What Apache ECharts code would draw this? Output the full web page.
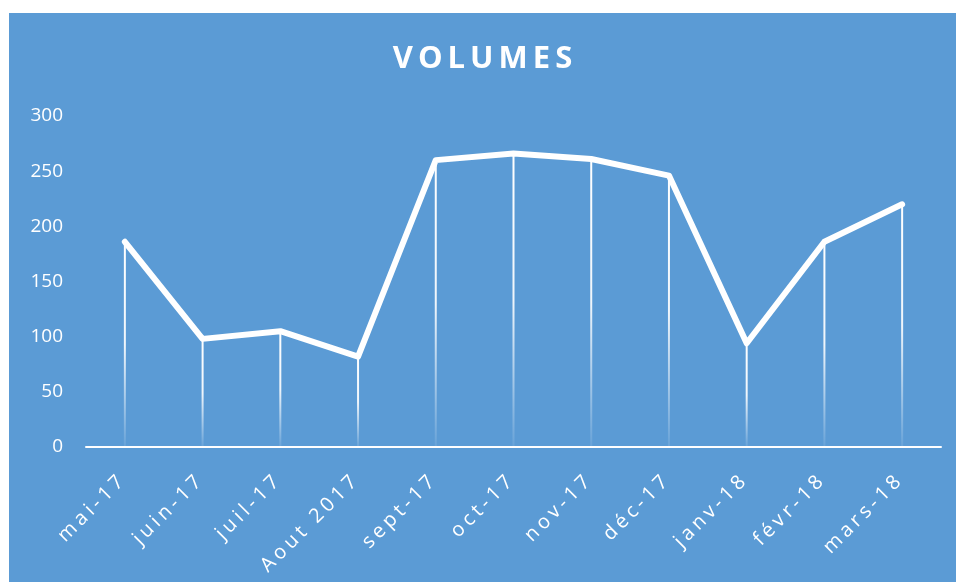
<!DOCTYPE html>
<html>
    <head>
        <meta charset="UTF-8" />
        <title>VOLUMES</title>
        <script type="text/javascript" src="https://cdn.jsdelivr.net/npm/echarts@6/dist/echarts.min.js"></script>
    </head>
    <body style="margin:0; width:956px; height:582px; background:#ffffff;">
        <div id="main" style="position:absolute; left:9px; top:13px; width:947px; height:569px;"></div>
    </body>
    <script>
        var months = ['mai-17', 'juin-17', 'juil-17', 'Aout 2017', 'sept-17', 'oct-17', 'nov-17', 'déc-17', 'janv-18', 'févr-18', 'mars-18'];
        var volumes = [186, 98, 105, 82, 260, 266, 261, 246, 94, 186, 220];
        var yTicks = [0, 50, 100, 150, 200, 250, 300];

        var myChart = echarts.init(document.getElementById('main'));
        var txt = '#ffffff';

        // spread characters apart (Excel-style character spacing)
        function spaced(s, lastStyle) {
            var out = '';
            for (var i = 0; i < s.length; i++) {
                var st = i === 0 ? 'a' : 'b';
                if (lastStyle && i === s.length - 1) st = lastStyle;
                out += '{' + st + '|' + s[i] + '}';
            }
            return out;
        }

        option = {
            backgroundColor: '#5B9BD5',
            animation: false,
            title: {
                text: spaced('VOLUMES'),
                left: 'center',
                top: 26,
                textStyle: {
                    color: txt,
                    fontFamily: 'Open Sans',
                    fontWeight: 'bold',
                    fontSize: 31,
                    rich: {
                        a: { color: txt, fontFamily: 'Open Sans', fontWeight: 'bold', fontSize: 31 },
                        b: { color: txt, fontFamily: 'Open Sans', fontWeight: 'bold', fontSize: 31, padding: [0, 0, 0, 5] }
                    }
                }
            },
            grid: {
                left: 77,
                right: 15,
                top: 103,
                bottom: 135
            },
            xAxis: {
                type: 'category',
                data: months,
                boundaryGap: true,
                axisLine: { lineStyle: { color: txt, width: 2 } },
                axisTick: { show: false },
                axisLabel: {
                    color: txt,
                    rotate: 45,
                    interval: 0,
                    margin: 28,
                    fontFamily: 'Open Sans',
                    fontSize: 20,
                    formatter: function (v) { return spaced(v, 'c'); },
                    rich: {
                        a: { color: txt, fontFamily: 'Open Sans', fontSize: 20 },
                        b: { color: txt, fontFamily: 'Open Sans', fontSize: 20, padding: [0, 0, 0, 4] },
                        c: { color: txt, fontFamily: 'Open Sans', fontSize: 20, padding: [0, 6, 0, 4] }
                    }
                }
            },
            yAxis: {
                type: 'value',
                min: yTicks[0],
                max: yTicks[yTicks.length - 1],
                interval: 50,
                axisLine: { show: false },
                axisTick: { show: false },
                splitLine: { show: false },
                axisLabel: {
                    color: txt,
                    margin: 23,
                    fontFamily: 'Open Sans',
                    fontSize: 19
                }
            },
            series: [
                {
                    // drop lines under each point
                    type: 'bar',
                    data: volumes,
                    barWidth: 2,
                    silent: true,
                    z: 1,
                    itemStyle: {
                        color: new echarts.graphic.LinearGradient(0, 0, 0, 1, [
                            { offset: 0, color: 'rgba(255,255,255,1)' },
                            { offset: 0.5, color: 'rgba(255,255,255,0.9)' },
                            { offset: 1, color: 'rgba(255,255,255,0.08)' }
                        ])
                    }
                },
                {
                    type: 'line',
                    data: volumes,
                    showSymbol: false,
                    z: 3,
                    lineStyle: {
                        color: txt,
                        width: 6,
                        cap: 'round',
                        join: 'round'
                    }
                }
            ]
        };

        myChart.setOption(option);
    </script>
</html>
